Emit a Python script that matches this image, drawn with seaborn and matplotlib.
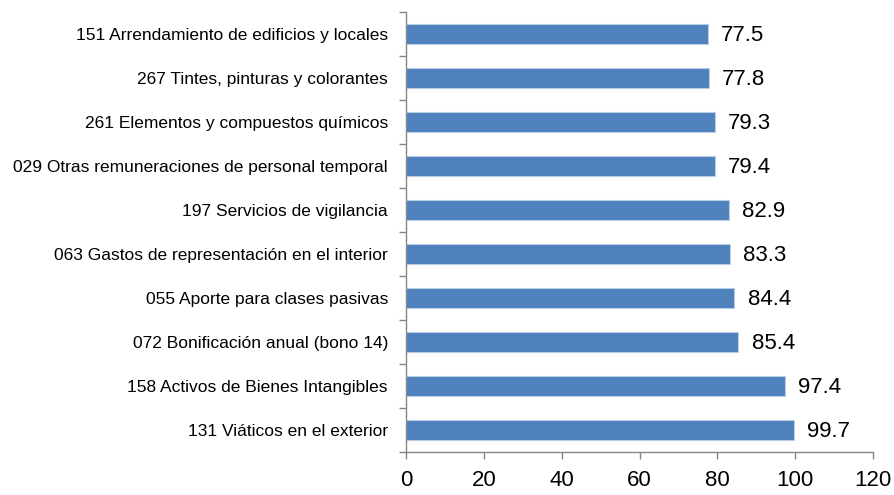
import numpy as np
import pandas as pd
import matplotlib
matplotlib.use('Agg')
import matplotlib.pyplot as plt
import seaborn as sns

# ========== 数据 ==========
categories = [
    '151 Arrendamiento de edificios y locales',
    '267 Tintes, pinturas y colorantes',
    '261 Elementos y compuestos químicos',
    '029 Otras remuneraciones de personal temporal',
    '197 Servicios de vigilancia',
    '063 Gastos de representación en el interior',
    '055 Aporte para clases pasivas',
    '072 Bonificación anual (bono 14)',
    '158 Activos de Bienes Intangibles',
    '131 Viáticos en el exterior',
]
values = [77.5, 77.8, 79.3, 79.4, 82.9, 83.3, 84.4, 85.4, 97.4, 99.7]
x_ticks = [0, 20, 40, 60, 80, 100, 120]

df = pd.DataFrame({'cat': categories, 'val': values})

sns.set_style('white')
plt.rcParams['font.family'] = ['Liberation Sans', 'DejaVu Sans']

fig = plt.figure(figsize=(8.94, 4.95), dpi=100)
ax = fig.add_axes([406 / 894, 1 - 452 / 495, (873 - 406) / 894, (452 - 12) / 495])

sns.barplot(data=df, y='cat', x='val', orient='h', color='#4F81BD',
            width=0.44, edgecolor='#B9CDE5', linewidth=0.8, saturation=1, ax=ax)

for i, v in enumerate(values):
    ax.text(v + 3.4, i + 0.04, f'{v:.1f}', va='center', ha='left', fontsize=16, color='black')

ax.set_xlim(0, 120)
ax.set_ylim(len(categories) - 0.5, -0.5)
ax.set_xticks(x_ticks)
ax.set_xticklabels([str(t) for t in x_ticks], fontsize=16, color='black')
ax.set_yticks(range(len(categories)))
ax.set_yticklabels(categories, fontsize=12.5, color='black')
ax.set_yticks(np.arange(-0.5, len(categories)), minor=True)
ax.set_xlabel('')
ax.set_ylabel('')

for s in ['top', 'right']:
    ax.spines[s].set_visible(False)
for s in ['left', 'bottom']:
    ax.spines[s].set_color('#868686')
    ax.spines[s].set_linewidth(1)

ax.tick_params(axis='y', which='major', left=False, length=0, pad=13)
ax.tick_params(axis='y', which='minor', left=True, length=5, width=1,
               color='#868686', direction='out')
ax.tick_params(axis='x', which='major', bottom=True, length=5, width=1,
               color='#868686', direction='out', pad=8)
ax.set_facecolor('white')
fig.patch.set_facecolor('white')

plt.savefig('out.png', dpi=100)
